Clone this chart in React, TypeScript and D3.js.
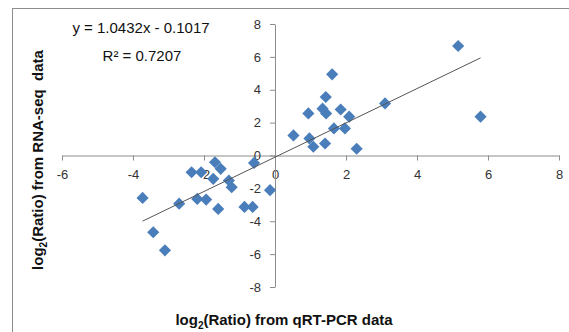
import { useRef, useEffect } from "react";
import * as d3 from "d3";

// qRT-PCR log2 ratios (x) and RNA-seq log2 ratios (y)
const qpcr = [
  -3.73, -3.43, -3.1, -2.7, -2.35, -2.08, -2.19, -1.94, -1.74, -1.69, -1.53, -1.6,
  -1.3, -1.22, -0.86, -0.63, -0.59, -0.14, 0.52, 0.94, 0.97, 1.08, 1.41, 1.34, 1.44,
  1.43, 1.61, 1.66, 1.85, 1.97, 2.09, 2.3, 3.1, 5.16, 5.79,
];
const rnaseq = [
  -2.58, -4.67, -5.77, -2.93, -1.02, -1.02, -2.64, -2.68, -1.42, -0.41, -0.81, -3.25,
  -1.52, -1.93, -3.13, -3.13, -0.45, -2.11, 1.22, 2.56, 1.04, 0.53, 0.73, 2.85, 2.56,
  3.56, 4.94, 1.65, 2.8, 1.65, 2.36, 0.41, 3.17, 6.66, 2.36,
];
const xTicks = [-6, -4, -2, 0, 2, 4, 6, 8];
const yTicks = [-8, -6, -4, -2, 0, 2, 4, 6, 8];
const slope = 1.0432;
const intercept = -0.1017;
const equation = "y = 1.0432x - 0.1017";
const rSquared = "R² = 0.7207";

const App = () => {
  const svgRef = useRef(null);

  useEffect(() => {
    const width = 569;
    const height = 332;
    const svg = d3.select(svgRef.current).attr("width", width).attr("height", height);
    svg.selectAll("*").remove();

    const font = "'Liberation Sans', Arial, sans-serif";

    svg
      .append("rect")
      .attr("x", 12.5)
      .attr("y", 8.5)
      .attr("width", 700)
      .attr("height", 500)
      .attr("fill", "white")
      .attr("stroke", "#8c8c8c");

    const xScale = d3.scaleLinear().domain([-6, 8]).range([62, 559]);
    const yScale = d3.scaleLinear().domain([-8, 8]).range([287, 24]);

    const xAxis = d3
      .axisBottom(xScale)
      .tickValues(xTicks)
      .tickSize(5)
      .tickSizeOuter(0)
      .tickFormat((d) => String(d));
    const xg = svg
      .append("g")
      .attr("transform", `translate(0,${yScale(0)})`)
      .call(xAxis);
    xg.selectAll("path, line").attr("stroke", "#8c8c8c");
    xg.selectAll("text")
      .attr("font-family", font)
      .attr("font-size", 13)
      .attr("fill", "#333")
      .attr("dy", "1.2em");

    const yAxis = d3
      .axisLeft(yScale)
      .tickValues(yTicks)
      .tickSize(5)
      .tickSizeOuter(0)
      .tickFormat((d) => String(d));
    const yg = svg
      .append("g")
      .attr("transform", `translate(${xScale(0)},0)`)
      .call(yAxis);
    yg.selectAll("path, line").attr("stroke", "#8c8c8c");
    yg.selectAll("text")
      .attr("font-family", font)
      .attr("font-size", 13)
      .attr("fill", "#333")
      .attr("x", -14);

    const data = qpcr.map((x, i) => ({ x, y: rnaseq[i] }));

    const diamond = d3.symbol().type(d3.symbolSquare).size(74);
    svg
      .append("g")
      .selectAll("path")
      .data(data)
      .join("path")
      .attr("d", diamond)
      .attr("transform", (d) => `translate(${xScale(d.x)},${yScale(d.y)}) rotate(45)`)
      .attr("fill", "#4a7ebb");

    const [x0, x1] = d3.extent(qpcr) as [number, number];
    svg
      .append("line")
      .attr("x1", xScale(x0))
      .attr("y1", yScale(slope * x0 + intercept))
      .attr("x2", xScale(x1))
      .attr("y2", yScale(slope * x1 + intercept))
      .attr("stroke", "#555")
      .attr("stroke-width", 1);

    svg
      .append("text")
      .attr("x", 141)
      .attr("y", 33)
      .attr("text-anchor", "middle")
      .attr("font-family", font)
      .attr("font-size", 15)
      .attr("fill", "#111")
      .text(equation);
    svg
      .append("text")
      .attr("x", 142)
      .attr("y", 61)
      .attr("text-anchor", "middle")
      .attr("font-family", font)
      .attr("font-size", 15)
      .attr("fill", "#111")
      .text(rSquared);

    const xTitle = svg
      .append("text")
      .attr("x", 284)
      .attr("y", 325)
      .attr("text-anchor", "middle")
      .attr("font-family", font)
      .attr("font-size", 15)
      .attr("font-weight", "bold")
      .attr("fill", "#111");
    xTitle.append("tspan").text("log");
    xTitle.append("tspan").attr("font-size", 10).attr("dy", 4).text("2");
    xTitle.append("tspan").attr("dy", -4).text("(Ratio) from qRT-PCR data");

    const yTitle = svg
      .append("text")
      .attr("transform", "translate(43,160) rotate(-90)")
      .attr("text-anchor", "middle")
      .attr("font-family", font)
      .attr("font-size", 15)
      .attr("font-weight", "bold")
      .attr("fill", "#111")
      .style("white-space", "pre");
    yTitle.append("tspan").text("log");
    yTitle.append("tspan").attr("font-size", 10).attr("dy", 4).text("2");
    yTitle.append("tspan").attr("dy", -4).text("(Ratio) from RNA-seq  data");
  }, []);

  return (
    <div style={{ position: "fixed", left: 0, top: 0, background: "white" }}>
      <svg ref={svgRef} style={{ display: "block" }}></svg>
    </div>
  );
};

export default App;
